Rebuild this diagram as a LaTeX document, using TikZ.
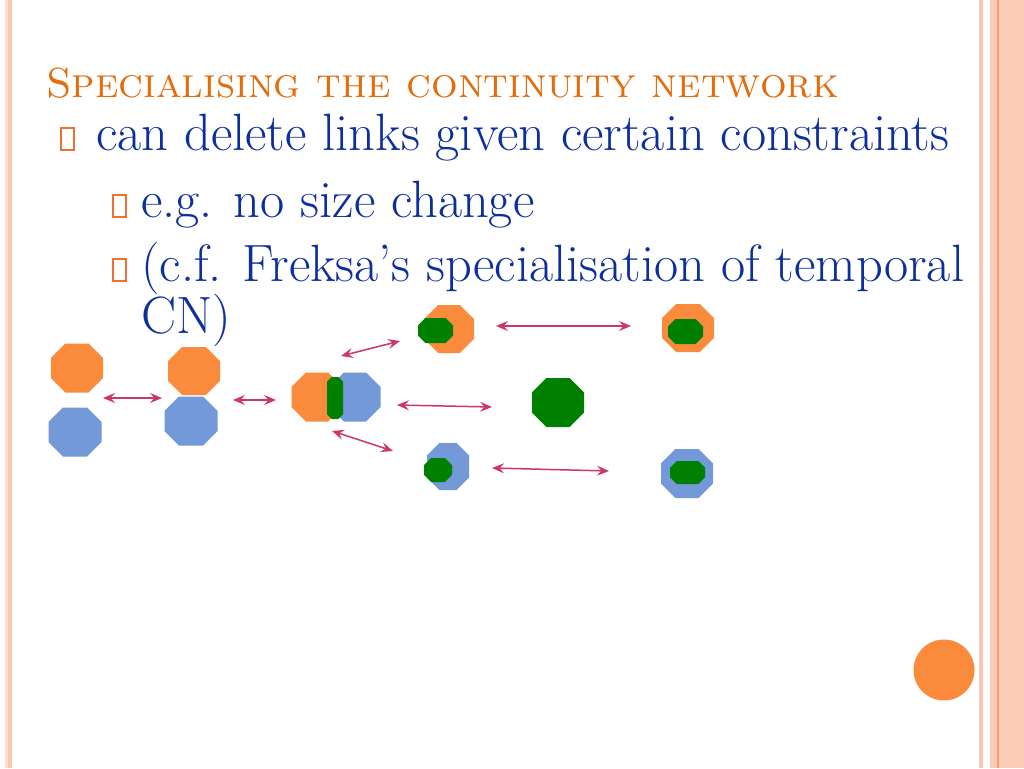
\documentclass[tikz,border=0pt]{standalone}
\usepackage{graphicx}
\usetikzlibrary{arrows.meta}
\definecolor{ttl}{RGB}{228,108,10}
\definecolor{body}{RGB}{12,46,158}
\definecolor{bul}{RGB}{240,112,50}
\definecolor{oct-or}{RGB}{251,139,60}
\definecolor{oct-bl}{RGB}{115,153,217}
\definecolor{oct-gr}{RGB}{0,128,0}
\definecolor{arr}{RGB}{204,54,104}
\definecolor{stripeA}{RGB}{253,222,210}
\definecolor{stripeB}{RGB}{250,198,178}
\definecolor{stripeC}{RGB}{252,203,182}
\definecolor{stripeD}{RGB}{242,160,122}
\newcommand\octo[6]{%
  \pgfmathsetmacro\oc{0.586*min(#4,#5)}%
  \fill[#6] ({#2-#4},{#3-#5+\oc}) -- ({#2-#4+\oc},{#3-#5}) -- ({#2+#4-\oc},{#3-#5})
    -- ({#2+#4},{#3-#5+\oc}) -- ({#2+#4},{#3+#5-\oc}) -- ({#2+#4-\oc},{#3+#5})
    -- ({#2-#4+\oc},{#3+#5}) -- ({#2-#4},{#3+#5-\oc}) -- cycle;
  \coordinate (#1) at (#2,#3);}
\newcommand\tightlines{\setlength{\lineskiplimit}{-60pt}\setlength{\lineskip}{0pt}}
\tikzset{
  link/.style={draw=arr, line width=1.5pt, {Stealth[length=12pt,width=10pt,inset=4.5pt]}-{Stealth[length=12pt,width=10pt,inset=4.5pt]}},
  bodytext/.style={anchor=base west, inner sep=0pt, text=body, font=\fontsize{52.5}{52}\selectfont\tightlines},
  bulletbox/.style={draw=bul, line width=2pt}
}
\begin{document}
\begin{tikzpicture}[x=1pt,y=-1pt]
\useasboundingbox (0,0) rectangle (1024,768);
\fill[white] (0,0) rectangle (1024,768);
% border stripes
\fill[stripeA] (5,0) rectangle (8,768);
\fill[stripeB] (8,0) rectangle (12,768);
\fill[stripeB] (979,0) rectangle (983,768);
\fill[stripeC] (990,0) rectangle (1024,768);
\draw[stripeD, line width=1.5pt] (998,0) -- (998,768);
% title and text
\node[anchor=base west, inner sep=0pt, text=ttl, font=\fontsize{42}{50}\selectfont] (title) at (46,97) {\textsc{Specialising the continuity network}};
\draw[bulletbox] (61,128) rectangle (74,150);
\node[bodytext] (l1) at (96,150) {can delete links given certain constraints};
\draw[bulletbox] (113,195) rectangle (126,217);
\node[bodytext] (l2) at (141,217) {e.g. no size change};
\draw[bulletbox] (113,259) rectangle (126,281);
\node[bodytext, align=left] (l3) at (141,333) {(c.f. Freksa's specialisation of temporal\\CN)};
% octagons
\octo{A}{77}{368}{26}{24.5}{oct-or}
\octo{B}{75}{432}{26.5}{24.5}{oct-bl}
\octo{C}{194}{371}{26}{24}{oct-or}
\octo{D}{191}{421}{26.5}{24.5}{oct-bl}
\octo{E}{317}{397}{25.5}{24.5}{oct-or}
\octo{F}{355}{397}{25.5}{24.5}{oct-bl}
\octo{G}{335}{398}{8}{21}{oct-gr}
\octo{H}{449}{329}{25}{24}{oct-or}
\octo{I}{435.5}{330.5}{17.5}{12.5}{oct-gr}
\octo{J}{688}{328}{26}{24}{oct-or}
\octo{K}{685.5}{331.5}{17.5}{12.5}{oct-gr}
\octo{L}{558}{402.5}{26}{24.5}{oct-gr}
\octo{M}{448}{466.5}{21}{23.5}{oct-bl}
\octo{N}{438}{470}{14}{12}{oct-gr}
\octo{O}{687}{473.5}{26}{24.5}{oct-bl}
\octo{P}{687.5}{472.5}{17.5}{11.5}{oct-gr}
% arrow end points
\coordinate (a1) at (103,398); \coordinate (a2) at (162,398);
\coordinate (b1) at (233,400); \coordinate (b2) at (276,400);
\coordinate (c1) at (341,356); \coordinate (c2) at (400,341);
\coordinate (d1) at (332,431); \coordinate (d2) at (393,451);
\coordinate (e1) at (397,405); \coordinate (e2) at (492,407);
\coordinate (f1) at (496,326); \coordinate (f2) at (631,326);
\coordinate (g1) at (492,468); \coordinate (g2) at (609,471);
\draw[link] (a1) -- (a2);
\draw[link] (b1) -- (b2);
\draw[link] (c1) -- (c2);
\draw[link] (d1) -- (d2);
\draw[link] (e1) -- (e2);
\draw[link] (f1) -- (f2);
\draw[link] (g1) -- (g2);
% corner circle
\fill[oct-or] (944,670) circle (30.5);
\coordinate (dot) at (944,670);
\end{tikzpicture}
\end{document}
